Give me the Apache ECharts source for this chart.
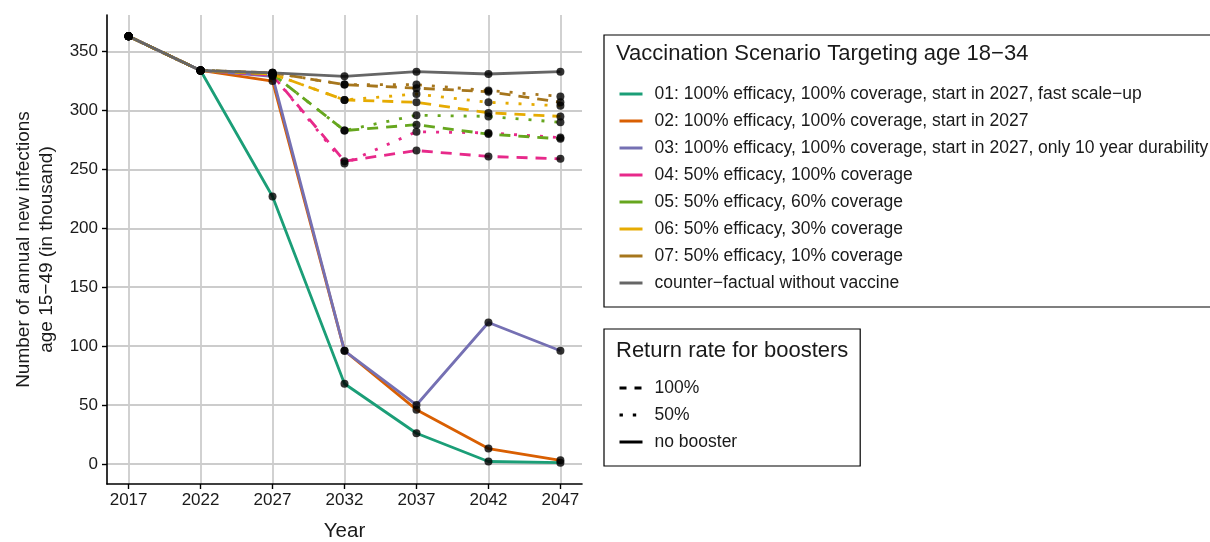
<!DOCTYPE html>
<html>
<head>
<meta charset="utf-8">
<script src="https://cdn.jsdelivr.net/npm/echarts@6/dist/echarts.min.js"></script>
<style>
html,body{margin:0;padding:0;background:#fff;}
#chart{width:1210px;height:542px;}
</style>
</head>
<body>
<div id="chart"></div>
<script>
// ---- data ----
const years = [2017, 2022, 2027, 2032, 2037, 2042, 2047];
const yTicks = [0, 50, 100, 150, 200, 250, 300, 350];

const s01 = [363, 334, 227, 68, 26, 2, 1];
const s02 = [363, 334, 325, 96, 46, 13, 3];
const s03 = [363, 334, 329, 96, 50, 120, 96];
const s04_100 = [363, 334, 330, 257, 266, 261, 259];
const s04_50  = [363, 334, 330, 255, 282, 281, 277];
const s05_100 = [363, 334, 331, 283, 288, 280, 276];
const s05_50  = [363, 334, 331, 283, 296, 295, 290];
const s06_100 = [363, 334, 331, 309, 307, 298, 295];
const s06_50  = [363, 334, 331, 309, 314, 307, 304];
const s07_100 = [363, 334, 332, 322, 319, 316, 307];
const s07_50  = [363, 334, 332, 322, 322, 317, 312];
const sCF     = [363, 334, 332, 329, 333, 331, 333];

const scenarioNames = [
  '01: 100% efficacy, 100% coverage, start in 2027, fast scale\u2212up',
  '02: 100% efficacy, 100% coverage, start in 2027',
  '03: 100% efficacy, 100% coverage, start in 2027, only 10 year durability',
  '04: 50% efficacy, 100% coverage',
  '05: 50% efficacy, 60% coverage',
  '06: 50% efficacy, 30% coverage',
  '07: 50% efficacy, 10% coverage',
  'counter\u2212factual without vaccine'
];
const boosterNames = ['100%', '50%', 'no booster'];
const palette = ['#1B9E77', '#D95F02', '#7570B3', '#E7298A', '#66A61E', '#E6AB02', '#A6761D', '#666666'];

// ---- styling ----
const DASH = [11, 8];
const DOT = [3, 10];
const LW = 2.8;
const FONT = 'Liberation Sans, Arial, Helvetica, sans-serif';
const TXT = '#1a1a1a';

const lineDefs = [
  {data: s01, c: 0, t: 'solid', name: scenarioNames[0]},
  {data: s02, c: 1, t: 'solid', name: scenarioNames[1]},
  {data: s03, c: 2, t: 'solid', name: scenarioNames[2]},
  {data: s04_100, c: 3, t: DASH, name: '04 booster 100%'},
  {data: s04_50, c: 3, t: DOT, name: '04 booster 50%'},
  {data: s05_100, c: 4, t: DASH, name: '05 booster 100%'},
  {data: s05_50, c: 4, t: DOT, name: '05 booster 50%'},
  {data: s06_100, c: 5, t: DASH, name: '06 booster 100%'},
  {data: s06_50, c: 5, t: DOT, name: '06 booster 50%'},
  {data: s07_100, c: 6, t: DASH, name: '07 booster 100%'},
  {data: s07_50, c: 6, t: DOT, name: '07 booster 50%'},
  {data: sCF, c: 7, t: 'solid', name: scenarioNames[7]}
];

const series = [];
lineDefs.forEach(d => {
  series.push({
    type: 'line',
    name: d.name,
    data: years.map((y, i) => [y, d.data[i]]),
    symbol: 'none',
    color: palette[d.c],
    lineStyle: {color: palette[d.c], width: LW, type: d.t, cap: 'butt'},
    z: 2,
    silent: true
  });
});
// legend-only series for scenarios 04-07
[3, 4, 5, 6].forEach(i => {
  series.push({
    type: 'line', name: scenarioNames[i], data: [], symbol: 'none',
    color: palette[i], lineStyle: {color: palette[i], width: LW, type: 'solid'}
  });
});
// legend-only series for booster linetypes
const bTypes = [[7, 8], [3.4, 9.9], 'solid'];
boosterNames.forEach((n, i) => {
  series.push({
    type: 'line', name: n, data: [], symbol: 'none',
    color: '#000', lineStyle: {color: '#000', width: LW, type: bTypes[i], cap: 'butt'}
  });
});
// points on top
const pts = [];
lineDefs.forEach(d => years.forEach((y, i) => pts.push([y, d.data[i]])));
series.push({
  type: 'scatter', name: 'points', data: pts, symbol: 'circle', symbolSize: 8,
  itemStyle: {color: '#000'}, z: 5, silent: true
});

const legendCommon = {
  orient: 'vertical',
  left: 604,
  itemWidth: 23,
  itemHeight: 14,
  itemGap: 9,
  borderColor: '#000',
  borderWidth: 1.2,
  selectedMode: false,
  itemStyle: {opacity: 0},
  lineStyle: {width: 3},
  textStyle: {fontFamily: FONT, fontSize: 17.5, color: TXT, padding: [0, 0, 0, 7]}
};

const option = {
  animation: false,
  backgroundColor: '#fff',
  title: [
    {text: 'Vaccination Scenario Targeting age 18\u221234', left: 616, top: 43, padding: 0,
     textStyle: {fontFamily: FONT, fontSize: 22, fontWeight: 'normal', color: TXT, lineHeight: 22}},
    {text: 'Return rate for boosters', left: 616, top: 340, padding: 0,
     textStyle: {fontFamily: FONT, fontSize: 22, fontWeight: 'normal', color: TXT, lineHeight: 22}}
  ],
  legend: [
    Object.assign({}, legendCommon, {top: 35, padding: [50, 4, 15, 14], data: scenarioNames}),
    Object.assign({}, legendCommon, {top: 329, padding: [50, 123, 15, 14], data: boosterNames})
  ],
  grid: {left: 107, right: 628, top: 15, bottom: 58, containLabel: false, outerBoundsMode: 'none'},
  xAxis: {
    type: 'value', min: 2015.5, max: 2048.5,
    name: 'Year', nameLocation: 'middle', nameGap: 37,
    nameTextStyle: {fontFamily: FONT, fontSize: 20.5, color: TXT},
    axisLine: {onZero: false, lineStyle: {color: '#000', width: 1.6}},
    axisTick: {show: true, length: 5, customValues: years, lineStyle: {color: '#000', width: 1.4}},
    axisLabel: {customValues: years, fontFamily: FONT, fontSize: 17, color: TXT, margin: 8,
      formatter: v => String(v)},
    splitLine: {show: true, lineStyle: {color: '#cccccc', width: 1.8}}
  },
  yAxis: {
    type: 'value', min: -17.1, max: 381.1,
    name: 'Number of annual new infections\nage 15\u221249 (in thousand)',
    nameLocation: 'middle', nameGap: 49, nameRotate: 90,
    nameTextStyle: {fontFamily: FONT, fontSize: 19, color: TXT, lineHeight: 23, align: 'center'},
    axisLine: {onZero: false, lineStyle: {color: '#000', width: 1.6}},
    axisTick: {show: true, length: 5, customValues: yTicks, lineStyle: {color: '#000', width: 1.4}},
    axisLabel: {customValues: yTicks, fontFamily: FONT, fontSize: 17, color: TXT, margin: 9},
    splitLine: {show: true, lineStyle: {color: '#cccccc', width: 1.8}}
  },
  series: series
};

const chart = echarts.init(document.getElementById('chart'), null, {renderer: 'canvas'});
chart.setOption(option);
</script>
</body>
</html>
